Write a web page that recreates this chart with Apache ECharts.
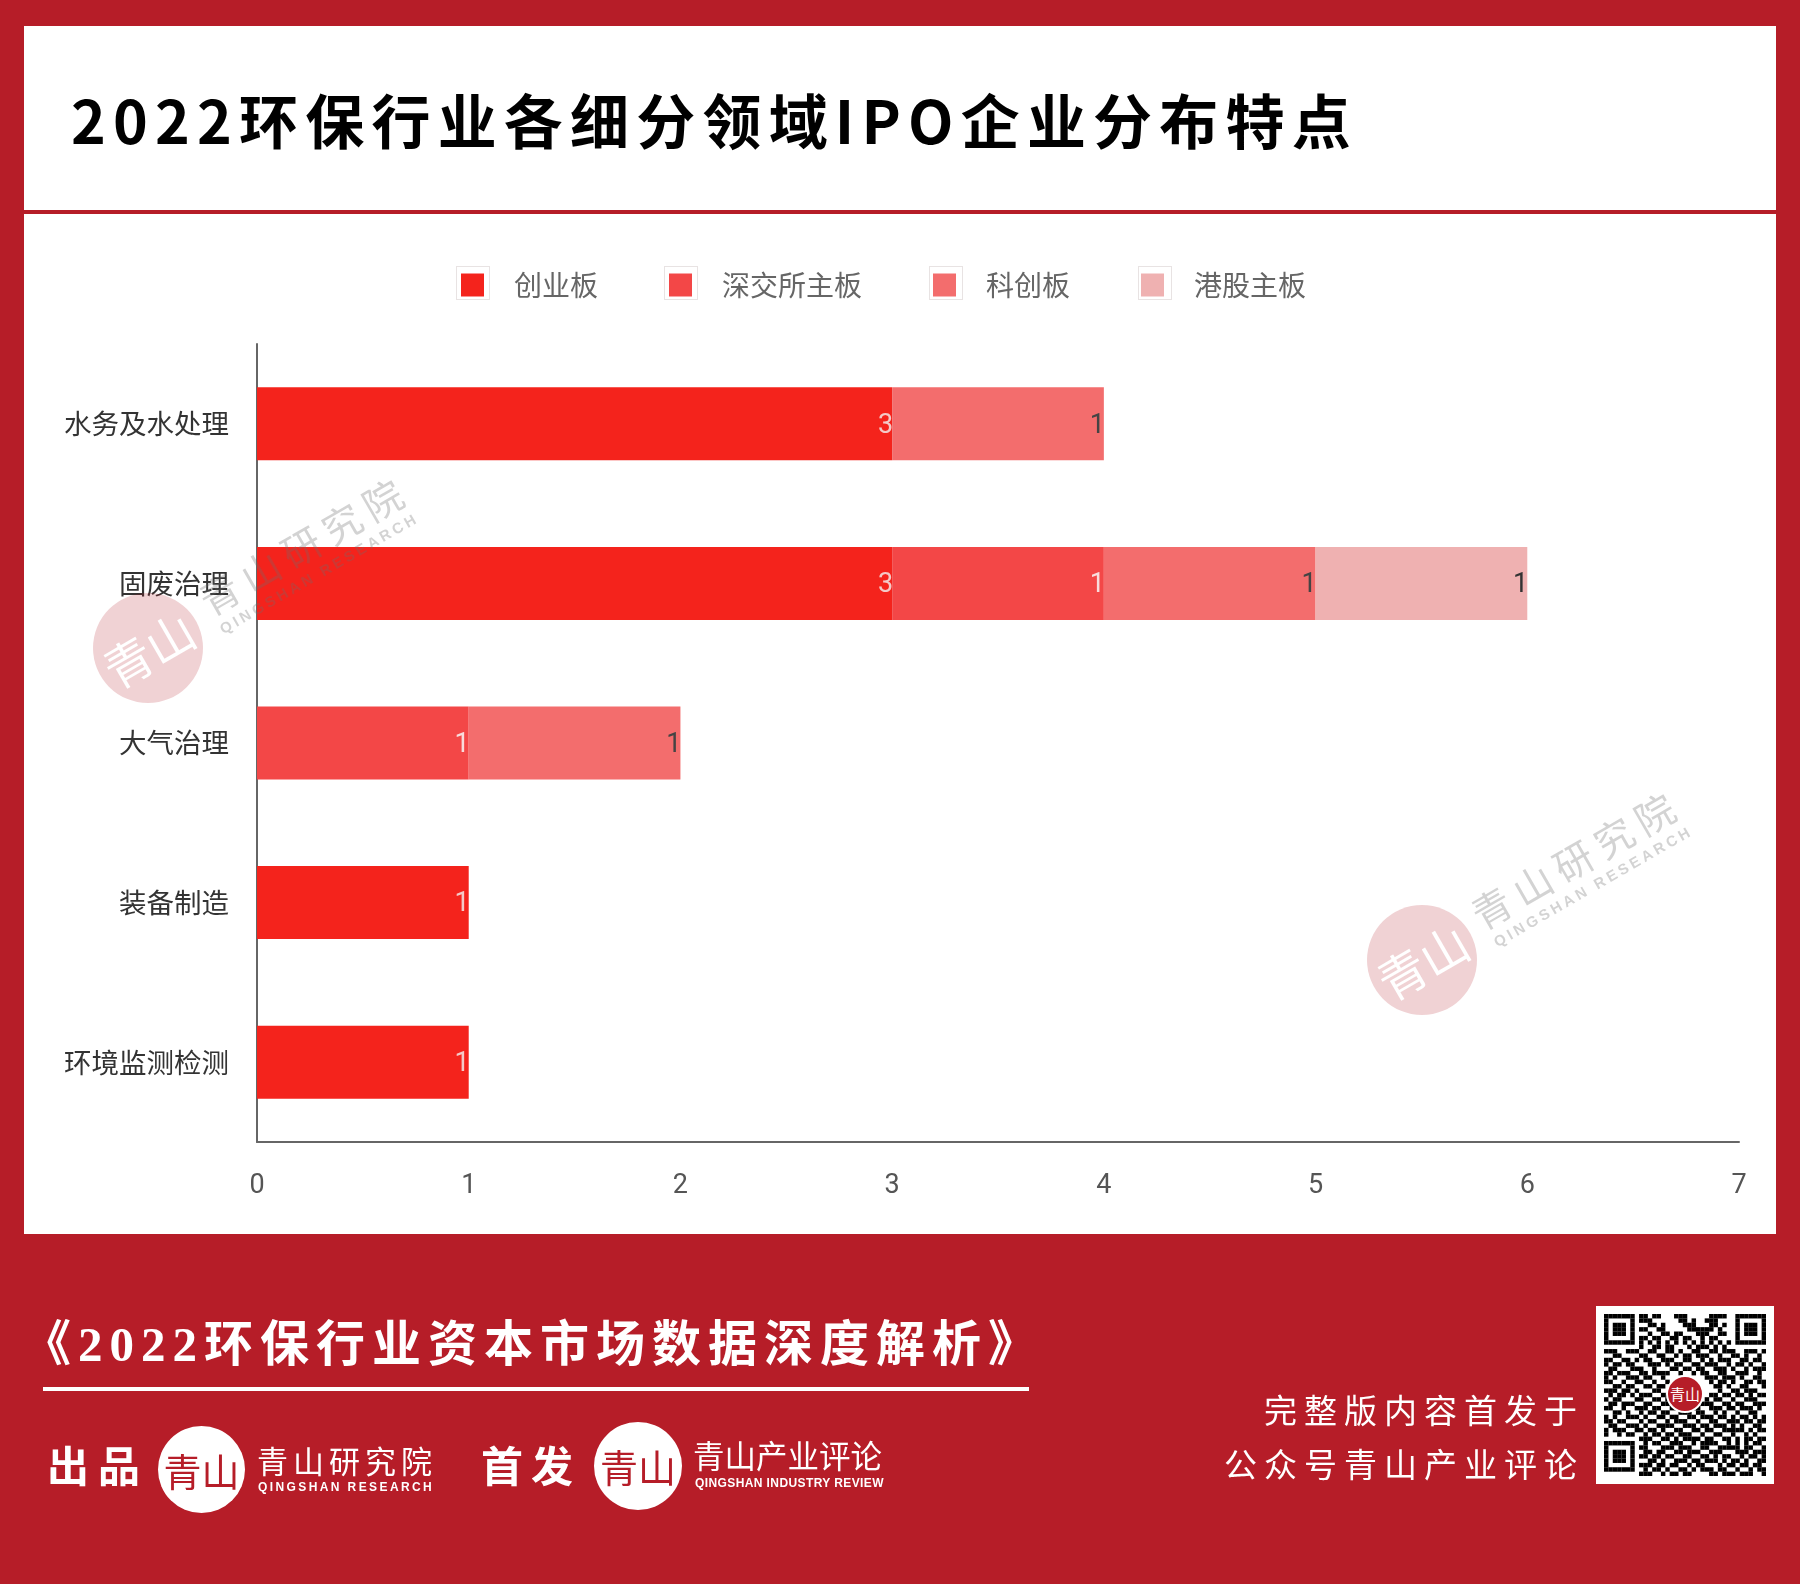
<!DOCTYPE html>
<html>
<head>
<meta charset="utf-8">
<title>2022环保行业各细分领域IPO企业分布特点</title>
<script src="https://cdn.jsdelivr.net/npm/echarts@6/dist/echarts.min.js"></script>
<style>
  html, body { margin: 0; padding: 0; }
  body { width: 1800px; height: 1584px; background: #b61d28; position: relative; overflow: hidden; font-family: "Noto Sans CJK SC", sans-serif; }
  .abs { position: absolute; white-space: nowrap; line-height: 1; }
  .mid { transform: translateY(-50%); }
  .panel { position: absolute; left: 24px; top: 26px; width: 1752px; height: 1208px; background: #fff; }
  .rule { position: absolute; left: 24px; top: 210px; width: 1752px; height: 4px; background: #b61d28; }
  .line { position: absolute; left: 43px; top: 1387px; width: 986px; height: 4px; background: #fff; }
  .frame { position: absolute; top: 266px; width: 32px; height: 32px; border: 1px solid #e8e3e3; }
  #main { position: absolute; left: 0; top: 0; width: 1800px; height: 1584px; }
  .title { left: 71px; top: 118px; font-size: 59px; font-weight: 700; letter-spacing: 7.2px; color: #000; }
  .report { left: 22px; top: 1344px; font-family: "Liberation Serif", "Noto Sans CJK SC", serif; font-size: 49px; font-weight: 700; letter-spacing: 7px; color: #fff; }
  .white { color: #fff; }
  .bold { font-weight: 700; }
  .logo { position: absolute; border-radius: 50%; background: #fff; color: #b61d28; text-align: center; font-size: 38px; }
  .wm { position: absolute; left: 0; top: 0; pointer-events: none; white-space: nowrap; line-height: 1; transform-origin: center; }
  #qr { position: absolute; left: 1596px; top: 1306px; width: 178px; height: 178px; background: #fff; }
  #qr svg { position: absolute; left: 8px; top: 8px; }
  #qrLogo { position: absolute; left: 70px; top: 69px; width: 34px; height: 34px; line-height: 34px; border-radius: 50%; background: #b61d28; border: 2px solid #fff; color: #fff; font-size: 15px; text-align: center; }
</style>
</head>
<body>
<div class="panel"></div>
<div class="rule"></div>
<div class="abs mid title">2022环保行业各细分领域IPO企业分布特点</div>

<div class="frame" style="left:456px"></div>
<div class="frame" style="left:664px"></div>
<div class="frame" style="left:929px"></div>
<div class="frame" style="left:1138px"></div>
<div id="main"></div>

<div id="marks"></div>

<div class="abs mid report">《2022环保行业资本市场数据深度解析》</div>
<div class="line"></div>

<div class="abs mid white bold" style="left:47px;top:1464px;font-size:42px;letter-spacing:9px">出品</div>
<div class="logo" style="left:158px;top:1426px;width:87px;height:87px;line-height:87px">青山</div>
<div class="abs mid white" style="left:257px;top:1459px;font-size:31px;letter-spacing:5px">青山研究院</div>
<div class="abs mid white bold" style="left:258px;top:1487px;font-size:12px;letter-spacing:2.4px;font-family:'Liberation Sans'">QINGSHAN RESEARCH</div>

<div class="abs mid white bold" style="left:481px;top:1464px;font-size:42px;letter-spacing:8px">首发</div>
<div class="logo" style="left:594px;top:1422px;width:88px;height:88px;line-height:88px">青山</div>
<div class="abs mid white" style="left:693px;top:1455px;font-size:31.5px">青山产业评论</div>
<div class="abs mid white bold" style="left:695px;top:1483px;font-size:12px;letter-spacing:.4px;font-family:'Liberation Sans'">QINGSHAN INDUSTRY REVIEW</div>

<div class="abs mid white" style="left:1264px;top:1409px;font-size:33px;letter-spacing:7px">完整版内容首发于</div>
<div class="abs mid white" style="left:1224px;top:1463px;font-size:33px;letter-spacing:7px">公众号青山产业评论</div>

<div id="qr"><div id="qrLogo">青山</div></div>

<script>
  var categories = ['水务及水处理', '固废治理', '大气治理', '装备制造', '环境监测检测']
  var seriesNames = ['创业板', '深交所主板', '科创板', '港股主板']
  var chuangye = [3, 3, null, 1, 1]
  var shenzhen = [null, 1, 1, null, null]
  var kechuang = [1, 1, 1, null, null]
  var ganggu = [null, 1, null, null, null]
  var xTicks = [0, 1, 2, 3, 4, 5, 6, 7]

  // 二维码图案，照原图估读
  var qrRows = [
    '1111111011011000111000001111001111111',
    '1000001011100000011010011100001000001',
    '1011101000110100001110001101001011101',
    '1011101011001100000111111010001011101',
    '1011101000100110110001110011001011101',
    '1000001011011001101100101100001000001',
    '1111111010101010101010101010101111111',
    '0000000010011011000101110101000000000',
    '1110011100110011010011001101110011101',
    '0011000011001100101101110010011010010',
    '1100110101100111001100101011100110110',
    '1011011000111010110011011100101101001',
    '0110001110010001101101100111010010111',
    '1101110011011110010010110011001110010',
    '1010011101100100000000011101110100110',
    '1100100110010010000000001011010011011',
    '0011011001101100000000000110100110001',
    '1110110100011000000000000010011011100',
    '0101101011100110000000001101101101011',
    '1011000110011010000000010110010011100',
    '0110111001100111000000111001101100111',
    '1100100111011001110011001110110111010',
    '0011010010110110011101100101001001100',
    '1010011101001101100110111011010110101',
    '1101100010110010111001001100111011011',
    '0110011101001111001110110111010100110',
    '1011100110110100110011011001111101011',
    '1001011001011011011100100110010010100',
    '0000000011100110101111011001101011011',
    '1111111001011001110010111100101010110',
    '1000001011000111011100110011111011001',
    '1011101001101100110111001110001110111',
    '1011101011011011001100110101100101101',
    '1011101000110100111011011101011010011',
    '1000001011101101100101100010110110110',
    '1111111001011010011010111011001001011',
    '0000000011100101101100001101110111001'
  ]

  // 水印两处
  var watermarks = [
    { cx: 148, cy: 648, tx: 304, ty: 544, sx: 319, sy: 573 },
    { cx: 1422, cy: 960, tx: 1576, ty: 858, sx: 1593, sy: 886 }
  ]

  function drawQr() {
    var ns = 'http://www.w3.org/2000/svg'
    var svg = document.createElementNS(ns, 'svg')
    var n = qrRows.length
    svg.setAttribute('width', 162)
    svg.setAttribute('height', 162)
    svg.setAttribute('viewBox', '0 0 ' + n + ' ' + n)
    qrRows.forEach(function (row, y) {
      for (var x = 0; x < row.length; x++) {
        if (row[x] === '1') {
          var r = document.createElementNS(ns, 'rect')
          r.setAttribute('x', x)
          r.setAttribute('y', y)
          r.setAttribute('width', 1.02)
          r.setAttribute('height', 1.02)
          r.setAttribute('fill', '#000')
          svg.appendChild(r)
        }
      }
    })
    var box = document.getElementById('qr')
    box.insertBefore(svg, box.firstChild)
  }

  function addMark(box, text, x, y, css) {
    var d = document.createElement('div')
    d.className = 'wm'
    d.textContent = text
    d.style.cssText = css
    box.appendChild(d)
    d.style.transform = 'translate(' + (x - d.offsetWidth / 2) + 'px,' + (y - d.offsetHeight / 2) + 'px) rotate(-30deg)'
  }

  function drawWatermarks() {
    var box = document.getElementById('marks')
    watermarks.forEach(function (m) {
      var c = document.createElement('div')
      c.className = 'wm'
      c.style.cssText = 'width:110px;height:110px;border-radius:50%;background:rgba(182,29,40,.2);'
      box.appendChild(c)
      c.style.transform = 'translate(' + (m.cx - 55) + 'px,' + (m.cy - 55) + 'px)'
      addMark(box, '青山', m.cx, m.cy, 'font-size:48px;color:#fff;')
      addMark(box, '青山研究院', m.tx, m.ty, 'font-size:39px;letter-spacing:8px;color:rgba(110,110,110,.3);')
      addMark(box, 'QINGSHAN RESEARCH', m.sx, m.sy, "font-size:15px;font-weight:700;letter-spacing:3.4px;color:rgba(110,110,110,.3);font-family:'Liberation Sans';")
    })
  }

  function makeSeries(name, values, color, labelColor) {
    return {
      name: name,
      type: 'bar',
      stack: 'total',
      barWidth: 73,
      data: values,
      itemStyle: { color: color },
      label: {
        show: true,
        position: 'insideRight',
        distance: 0,
        offset: [1, 2],
        color: labelColor,
        fontSize: 27,
        fontFamily: 'Roboto'
      }
    }
  }

  var option = {
    animation: false,
    textStyle: { fontFamily: '"Noto Sans CJK SC", sans-serif' },
    legend: {
      left: 461,
      top: 271,
      padding: 0,
      icon: 'rect',
      itemWidth: 23,
      itemHeight: 23,
      itemGap: 71,
      data: seriesNames,
      textStyle: { color: '#666', fontSize: 28, padding: [0, 0, 2, 25] }
    },
    grid: { left: 257, top: 344, width: 1482, height: 798, containLabel: false },
    xAxis: {
      type: 'value',
      min: 0,
      max: xTicks[xTicks.length - 1],
      interval: 1,
      splitLine: { show: false },
      axisTick: { show: false },
      axisLine: { show: true, onZero: false, lineStyle: { color: '#666', width: 2 } },
      axisLabel: { color: '#555', fontSize: 27, margin: 31, fontFamily: 'Roboto' }
    },
    yAxis: {
      type: 'category',
      inverse: true,
      data: categories,
      axisTick: { show: false },
      axisLine: { show: true, onZero: false, lineStyle: { color: '#666', width: 2 } },
      axisLabel: { color: '#333', fontSize: 27.5, margin: 28 }
    },
    series: [
      makeSeries(seriesNames[0], chuangye, '#f4231c', '#f3c9c7'),
      makeSeries(seriesNames[1], shenzhen, '#f34747', '#f8dcdc'),
      makeSeries(seriesNames[2], kechuang, '#f36d6d', '#444'),
      makeSeries(seriesNames[3], ganggu, '#efb1b1', '#333')
    ]
  }

  var chart = echarts.init(document.getElementById('main'))
  chart.setOption(option)
  drawQr()
  drawWatermarks()
</script>
</body>
</html>
